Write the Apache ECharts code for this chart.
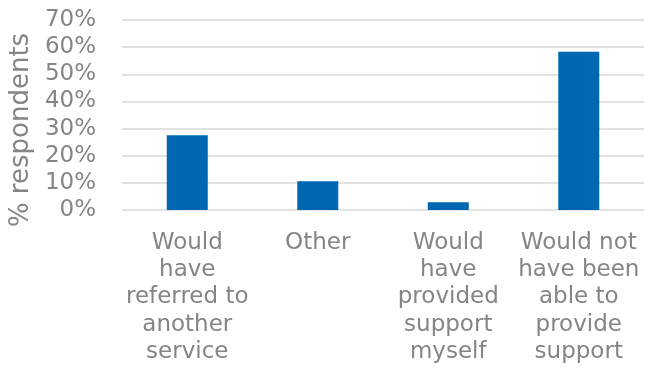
<!DOCTYPE html>
<html>
<head>
<meta charset="utf-8">
<script src="https://cdn.jsdelivr.net/npm/echarts@6/dist/echarts.min.js"></script>
<style>
  html, body { margin: 0; padding: 0; background: #ffffff; }
  #chart { width: 645px; height: 374px; }
</style>
</head>
<body>
<div id="chart"></div>
<script>
// Responses: what would have happened without the service
const categories = [
  'Would\nhave\nreferred to\nanother\nservice',
  'Other',
  'Would\nhave\nprovided\nsupport\nmyself',
  'Would not\nhave been\nable to\nprovide\nsupport'
];
const shares = [27.5, 10.6, 2.9, 58.3];
const yTicks = [0, 10, 20, 30, 40, 50, 60, 70];

const grey = '#858585';
const fontFamily = '"DejaVu Sans", Verdana, sans-serif';

const chart = echarts.init(document.getElementById('chart'), null, { renderer: 'canvas' });
chart.setOption({
  animation: false,
  grid: { left: 122, right: 1, top: 20, bottom: 164 },
  xAxis: {
    type: 'category',
    data: categories,
    axisLine: { show: false },
    axisTick: { show: false },
    axisLabel: {
      color: grey,
      fontFamily: fontFamily,
      fontSize: 23,
      lineHeight: 27.3,
      margin: 19,
      interval: 0,
      align: 'center'
    }
  },
  yAxis: {
    type: 'value',
    min: yTicks[0],
    max: yTicks[yTicks.length - 1],
    interval: 10,
    name: '% respondents',
    nameLocation: 'middle',
    nameGap: 86,
    nameRotate: 90,
    nameTextStyle: {
      color: grey,
      fontFamily: fontFamily,
      fontSize: 26,
      padding: [0, 30, 0, 0]
    },
    axisLine: { show: false },
    axisTick: { show: false },
    splitLine: { lineStyle: { color: '#d9d9d9', width: 1.5 } },
    axisLabel: {
      color: grey,
      fontFamily: fontFamily,
      fontSize: 23,
      margin: 26,
      formatter: v => v + '%'
    }
  },
  series: [{
    type: 'bar',
    data: shares,
    barWidth: 41,
    itemStyle: { color: '#0068b3' }
  }]
});
</script>
</body>
</html>
